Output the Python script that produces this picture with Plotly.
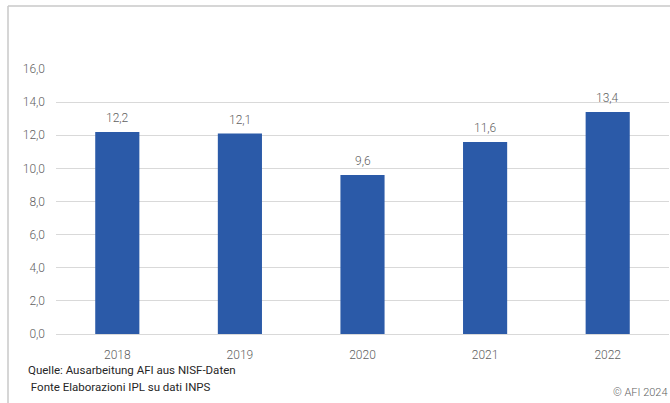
import plotly.graph_objects as go

years = ["2018", "2019", "2020", "2021", "2022"]
values = [12.2, 12.1, 9.6, 11.6, 13.4]
y_ticks = [0, 2, 4, 6, 8, 10, 12, 14, 16]
value_labels = ["12,2", "12,1", "9,6", "11,6", "13,4"]
source_lines = ["Quelle: Ausarbeitung AFI aus NISF-Daten", " Fonte Elaborazioni IPL su dati INPS"]
copyright_text = "© AFI 2024"

W, H = 670, 403
ml, mr, mt, mb = 56, 1, 69, 69
pw = W - ml - mr
ph = H - mt - mb

FONT = "Roboto"
GRAY = "#5f5f5f"

fig = go.Figure()
fig.add_trace(go.Bar(
    x=years, y=values,
    marker=dict(color="#2b5aa8", line=dict(width=0)),
    width=0.36,
    hoverinfo="skip",
))

def px_x(p):
    return (p - ml) / pw

def px_y(p):
    return (H - mb - p) / ph

# data labels: placed on category index of each bar
annotations = [
    dict(text=lab, x=i, y=val, xref="x", yref="y",
         xanchor="center", yanchor="bottom", yshift=5,
         showarrow=False, font=dict(family=FONT, size=12, color=GRAY, weight=300))
    for i, (val, lab) in enumerate(zip(values, value_labels))
]
annotations += [
    dict(text=source_lines[0], xref="paper", yref="paper",
         x=px_x(26), y=px_y(370), xanchor="left", yanchor="middle",
         showarrow=False, font=dict(family=FONT, size=11.5, color="#262626")),
    dict(text=source_lines[1], xref="paper", yref="paper",
         x=px_x(26), y=px_y(387), xanchor="left", yanchor="middle",
         showarrow=False, font=dict(family=FONT, size=11.5, color="#262626")),
    dict(text=copyright_text, xref="paper", yref="paper",
         x=px_x(W), y=px_y(392), xanchor="right", yanchor="middle",
         showarrow=False, font=dict(family=FONT, size=11, color=GRAY, weight=300)),
]

fig.update_layout(
    width=W, height=H, autosize=False,
    margin=dict(l=ml, r=mr, t=mt, b=mb),
    paper_bgcolor="white", plot_bgcolor="white",
    separators=", ",
    showlegend=False,
    xaxis=dict(
        type="category", range=[-0.5, len(years) - 0.5],
        showgrid=False, showline=False, zeroline=False, ticks="",
        ticklabelstandoff=12,
        tickfont=dict(family=FONT, size=12, color=GRAY, weight=300),
    ),
    yaxis=dict(
        range=[0, 16], tickvals=y_ticks, tickformat=".1f",
        showgrid=True, gridcolor="#d9d9d9", gridwidth=1,
        zeroline=True, zerolinecolor="#d9d9d9", zerolinewidth=1,
        showline=False, ticks="", ticklabelstandoff=10,
        tickfont=dict(family=FONT, size=12, color=GRAY, weight=300),
    ),
    shapes=[
        dict(type="line", xref="paper", yref="paper",
             x0=px_x(8), x1=px_x(8), y0=px_y(6), y1=px_y(H),
             line=dict(color="#c8c8c8", width=1.5)),
        dict(type="line", xref="paper", yref="paper",
             x0=px_x(8), x1=px_x(W), y0=px_y(6), y1=px_y(6),
             line=dict(color="#c8c8c8", width=1.5)),
    ],
    annotations=annotations,
)

fig.write_html(
    "out.html",
    config={"displayModeBar": False},
    post_script="document.body.style.margin='0';document.body.style.overflow='hidden';",
)
